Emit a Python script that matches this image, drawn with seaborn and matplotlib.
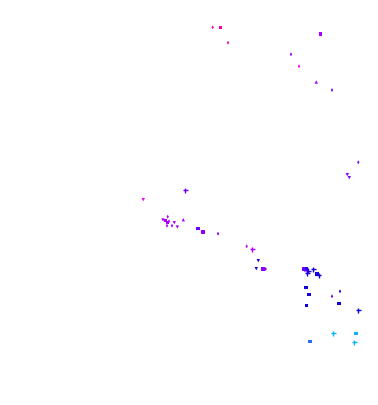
import matplotlib
matplotlib.use("Agg")
import matplotlib.pyplot as plt
import seaborn as sns
import pandas as pd
from matplotlib.colors import LinearSegmentedColormap

# values (x to the right, y upward)
x_vals = [212.7, 220.7, 228.0, 320.3, 291.0, 299.0, 316.3, 332.0, 358.3, 347.3,
          349.3, 185.3, 143.3, 167.7, 163.0, 165.7, 167.7, 169.0, 174.3, 183.3,
          167.0, 172.0, 177.3, 198.0, 203.0, 218.0, 246.7, 252.3, 258.3, 256.3,
          263.0, 265.7, 304.0, 306.7, 308.3, 305.0, 307.3, 313.3, 317.0, 318.7,
          306.0, 309.0, 306.7, 340.0, 332.0, 339.0, 358.3, 333.3, 356.0, 354.3,
          310.0]
y_vals = [377.7, 377.3, 362.3, 371.0, 350.7, 338.7, 323.0, 315.0, 242.7, 230.3,
          227.3, 214.7, 205.3, 188.3, 185.0, 184.3, 182.7, 183.7, 182.3, 185.3,
          179.3, 179.3, 178.0, 176.3, 173.0, 171.3, 158.7, 155.7, 144.3, 136.3,
          136.0, 136.0, 136.0, 136.0, 134.3, 134.5, 131.7, 135.7, 131.0, 129.7,
          117.3, 110.3, 99.3, 113.7, 108.7, 101.3, 94.7, 71.7, 71.3, 62.7,
          63.3]
tone = [0.97, 0.97, 0.95, 0.72, 0.70, 0.85, 0.70, 0.60, 0.62, 0.65,
        0.65, 0.58, 0.86, 0.73, 0.72, 0.72, 0.70, 0.72, 0.74, 0.72,
        0.72, 0.70, 0.72, 0.60, 0.68, 0.62, 0.72, 0.72, 0.42, 0.42,
        0.66, 0.66, 0.62, 0.45, 0.45, 0.60, 0.42, 0.42, 0.42, 0.42,
        0.42, 0.42, 0.42, 0.45, 0.60, 0.42, 0.42, 0.05, 0.05, 0.05,
        0.20]
kind = ["d", "s", "d", "s", "d", "d", "^", "d", "d", "v",
        "v", "+", "v", "d", "v", "s", "s", "d", "v", "^",
        "d", "d", "v", "s", "s", "d", "d", "+", "v", "v",
        "s", "d", "s", "s", "+", "d", "+", "+", "s", "+",
        "s", "s", "s", "d", "d", "s", "+", "+", "s", "+",
        "s"]

df = pd.DataFrame({"x": x_vals, "y": y_vals, "tone": tone, "kind": kind})

cmap = LinearSegmentedColormap.from_list(
    "ref",
    [(0.0, (0/255, 200/255, 1.0)),
     (0.2, (40/255, 110/255, 1.0)),
     (0.4, (10/255, 0.0, 220/255)),
     (0.6, (110/255, 0.0, 1.0)),
     (0.7, (160/255, 0.0, 1.0)),
     (0.85, (240/255, 0.0, 1.0)),
     (1.0, (1.0, 0.0, 140/255))])

sns.set_theme(style="white")
fig = plt.figure(figsize=(3.78, 4.06), dpi=100)
ax = fig.add_axes([0, 0, 1, 1])

filled = df[df["kind"] != "+"]
sns.scatterplot(data=filled, x="x", y="y", hue="tone", style="kind",
                markers={"d": "d", "s": "s", "v": "v", "^": "^"},
                size="kind", sizes={"d": 4, "s": 5, "v": 6, "^": 6},
                palette=cmap, hue_norm=(0, 1), linewidth=0,
                legend=False, ax=ax)
plus = df[df["kind"] == "+"]
sns.scatterplot(data=plus, x="x", y="y", hue="tone", marker="+",
                palette=cmap, hue_norm=(0, 1), s=14, linewidth=1.0,
                legend=False, ax=ax)
ax.set_xlim(0, 378)
ax.set_ylim(0, 406)
ax.set_axis_off()
fig.savefig("out.png", dpi=100, facecolor="white")
